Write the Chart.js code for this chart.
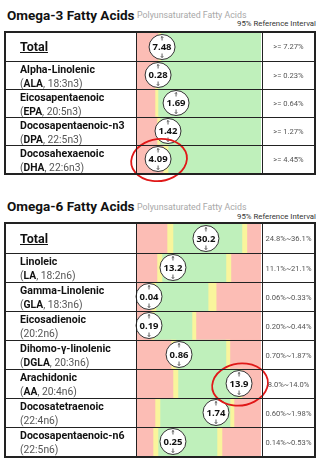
<!DOCTYPE html>
<html>
<head>
<meta charset="utf-8">
<script src="https://cdn.jsdelivr.net/npm/chart.js@4.4.0/dist/chart.umd.min.js"></script>
<style>
  html, body { margin: 0; padding: 0; background: #fff; }
  body { width: 324px; height: 472px; position: relative; overflow: hidden; font-family: Roboto, 'Noto Sans', sans-serif; color: #111; }
  .title { position: absolute; left: 7px; font-size: 13.5px; font-weight: 700; line-height: 1; white-space: nowrap; }
  .sub { position: absolute; left: 137px; font-size: 8.8px; color: #a8a8a8; line-height: 1; white-space: nowrap; }
  .ref { position: absolute; right: 8px; font-size: 7.8px; color: #333; line-height: 1; white-space: nowrap; }
  canvas { position: absolute; left: 0; z-index: 1; }
  .tbl { position: absolute; left: 4px; width: 312px; border: 2px solid #222; box-sizing: border-box; z-index: 2; }
  .row { position: absolute; left: 0; width: 308px; box-sizing: border-box; }
  .row.sep { border-top: 1px solid #222; }
  .vline { position: absolute; top: 0; bottom: 0; width: 1px; background: #222; }
  .name { position: absolute; left: 14px; top: 1px; font-size: 10.6px; font-weight: 700; line-height: 14px; white-space: nowrap; }
  .code { position: absolute; left: 14px; top: 14.5px; font-size: 10.3px; line-height: 13px; color: #555; white-space: nowrap; }
  .code b { color: #111; }
  .total { position: absolute; left: 14px; top: 0; font-size: 12.5px; font-weight: 700; text-decoration: underline; white-space: nowrap; }
  .range { position: absolute; left: 257px; width: 51px; top: 0; text-align: center; font-size: 7.6px; color: #555; white-space: nowrap; }
</style>
</head>
<body>
<div class="title" style="top:9px">Omega-3 Fatty Acids</div>
<div class="sub" style="top:10.5px">Polyunsaturated Fatty Acids</div>
<div class="ref" style="top:19.5px">95% Reference Interval</div>
<div class="title" style="top:200px">Omega-6 Fatty Acids</div>
<div class="sub" style="top:202.5px">Polyunsaturated Fatty Acids</div>
<div class="ref" style="top:212.5px">95% Reference Interval</div>

<script>
// ---- Omega-3 ----
const o3Names = ['Total', 'Alpha-Linolenic', 'Eicosapentaenoic', 'Docosapentaenoic-n3', 'Docosahexaenoic'];
const o3Abbr = ['', 'ALA', 'EPA', 'DPA', 'DHA'];
const o3Codes = ['', '18:3n3', '20:5n3', '22:5n3', '22:6n3'];
const o3Values = [7.48, 0.28, 1.69, 1.42, 4.09];
const o3Ranges = ['>= 7.27%', '>= 0.23%', '>= 0.64%', '>= 1.27%', '>= 4.45%'];
// zone widths, % of the bar track
const o3Low = [16.9, 14.5, 14.5, 16.1, 21];
const o3Edge = [2.4, 2.4, 2.4, 2.4, 4];
const o3Ok = [80.7, 83.1, 83.1, 81.5, 75];
// where the result bubble sits on the track
const o3Marker = [20.2, 17, 31.5, 25, 17];
const o3Circled = ['DHA'];

// ---- Omega-6 ----
const o6Names = ['Total', 'Linoleic', 'Gamma-Linolenic', 'Eicosadienoic', 'Dihomo-γ-linolenic', 'Arachidonic', 'Docosatetraenoic', 'Docosapentaenoic-n6'];
const o6Abbr = ['', 'LA', 'GLA', '', 'DGLA', 'AA', '', ''];
const o6Codes = ['', '18:2n6', '18:3n6', '20:2n6', '20:3n6', '20:4n6', '22:4n6', '22:5n6'];
const o6Values = [30.2, 13.2, 0.04, 0.19, 0.86, 13.9, 1.74, 0.25];
const o6Ranges = ['24.8%~36.1%', '11.1%~21.1%', '0.06%~0.33%', '0.20%~0.44%', '0.70%~1.87%', '8.0%~14.0%', '0.60%~1.98%', '0.14%~0.53%'];
const o6Low = [24.2, 16.1, 11.3, 11.3, 27.4, 29, 14.5, 12.9];
const o6EdgeLow = [4.8, 4, 4, 2.4, 4, 4, 4, 4];
const o6Ok = [55.6, 51.6, 42, 30.6, 40.3, 48.4, 56.5, 47.6];
const o6EdgeHigh = [4, 4, 6.5, 3.2, 3.2, 3.2, 3.2, 4];
const o6High = [11.4, 24.3, 36.2, 52.5, 25.1, 15.4, 21.8, 31.5];
const o6Marker = [55.6, 29, 9.7, 9.7, 33.9, 82.3, 63.7, 29];
const o6Circled = ['AA'];

const RED = '#fcbdb5';
const YELLOW = '#f9f59c';
const GREEN = '#bff0bb';

// white bubble with the measured value + the hand-drawn red ring
const markerPlugin = {
    id: 'markers',
    afterDatasetsDraw(chart, args, opts) {
        const ctx = chart.ctx;
        const xs = chart.scales.x, ys = chart.scales.y;
        const band = (ys.bottom - ys.top) / opts.pos.length;
        ctx.save();
        ctx.font = 'bold 9.5px "Noto Sans"';
        opts.pos.forEach((p, i) => {
            const x = xs.getPixelForValue(p);
            const y = ys.getPixelForValue(i);
            const label = String(opts.values[i]);
            const rx = ctx.measureText(label).width / 2 + 3.5;
            const ry = band / 2 - 1.5;
            ctx.beginPath();
            ctx.ellipse(x, y, rx, ry, 0, 0, Math.PI * 2);
            ctx.fillStyle = '#fff';
            ctx.fill();
            ctx.lineWidth = 1;
            ctx.strokeStyle = '#333';
            ctx.stroke();
            ctx.fillStyle = '#111';
            ctx.textAlign = 'center';
            ctx.textBaseline = 'middle';
            ctx.fillText(label, x, y + 0.5);
            // tiny up / down arrows
            ctx.lineWidth = 0.8;
            ctx.beginPath();
            ctx.moveTo(x, y - ry + 2); ctx.lineTo(x, y - ry + 6);
            ctx.moveTo(x - 1.2, y - ry + 3.2); ctx.lineTo(x, y - ry + 2); ctx.lineTo(x + 1.2, y - ry + 3.2);
            ctx.moveTo(x, y + ry - 2); ctx.lineTo(x, y + ry - 6);
            ctx.moveTo(x - 1.2, y + ry - 3.2); ctx.lineTo(x, y + ry - 2); ctx.lineTo(x + 1.2, y + ry - 3.2);
            ctx.stroke();
        });
        ctx.restore();
    },
    afterDraw(chart, args, opts) {
        const ctx = chart.ctx;
        ctx.save();
        ctx.strokeStyle = '#e01818';
        ctx.lineWidth = 1.8;
        opts.circled.forEach(i => {
            const x = chart.scales.x.getPixelForValue(opts.pos[i]);
            const y = chart.scales.y.getPixelForValue(i);
            ctx.beginPath();
            ctx.ellipse(x + 1, y + 1, 28, 21, -0.15, -2.0, -2.0 + Math.PI * 2 + 0.35);
            ctx.stroke();
        });
        ctx.restore();
    }
};

function buildTable(top, rh, names, abbr, codes, ranges, zones, pos, values, circled) {
    const n = names.length;
    const h = n * rh + 4;

    // canvas a bit larger than the table so the red rings can spill out
    const canvas = document.createElement('canvas');
    canvas.width = 324;
    canvas.height = h + 30;
    canvas.style.top = (top - 10) + 'px';
    canvas.style.width = '324px';
    canvas.style.height = (h + 30) + 'px';
    document.body.appendChild(canvas);

    new Chart(canvas, {
        type: 'bar',
        data: {
            labels: names,
            datasets: zones.map(z => ({ data: z[0], backgroundColor: z[1] })),
        },
        options: {
            indexAxis: 'y',
            responsive: false,
            animation: false,
            devicePixelRatio: 1,
            layout: { padding: { left: 137, right: 63, top: 12, bottom: 22 } },
            datasets: { bar: { barPercentage: 1, categoryPercentage: 1, borderWidth: 0 } },
            scales: {
                x: { stacked: true, min: 0, max: 100, display: false },
                y: { stacked: true, display: false },
            },
            plugins: {
                legend: { display: false },
                tooltip: { enabled: false },
                markers: { pos: pos, values: values, circled: circled.map(a => abbr.indexOf(a)) },
            },
        },
        plugins: [markerPlugin],
    });

    // table borders + text
    const tbl = document.createElement('div');
    tbl.className = 'tbl';
    tbl.style.top = top + 'px';
    tbl.style.height = h + 'px';
    let html = '';
    names.forEach((name, i) => {
        html += '<div class="row' + (i ? ' sep' : '') + '" style="top:' + (i * rh) + 'px;height:' + rh + 'px">';
        if (name === 'Total') {
            html += '<div class="total" style="line-height:' + rh + 'px">' + name + '</div>';
        } else {
            html += '<div class="name">' + name + '</div>';
            const c = abbr[i] ? '(<b>' + abbr[i] + '</b>, ' + codes[i] + ')' : '(' + codes[i] + ')';
            html += '<div class="code">' + c + '</div>';
        }
        html += '<div class="range" style="line-height:' + rh + 'px">' + ranges[i] + '</div>';
        html += '</div>';
    });
    html += '<div class="vline" style="left:130px"></div><div class="vline" style="left:256px"></div>';
    tbl.innerHTML = html;
    document.body.appendChild(tbl);
}

buildTable(31, 28, o3Names, o3Abbr, o3Codes, o3Ranges,
    [[o3Low, RED], [o3Edge, YELLOW], [o3Ok, GREEN]],
    o3Marker, o3Values, o3Circled);

buildTable(222, 29, o6Names, o6Abbr, o6Codes, o6Ranges,
    [[o6Low, RED], [o6EdgeLow, YELLOW], [o6Ok, GREEN], [o6EdgeHigh, YELLOW], [o6High, RED]],
    o6Marker, o6Values, o6Circled);
</script>
</body>
</html>
